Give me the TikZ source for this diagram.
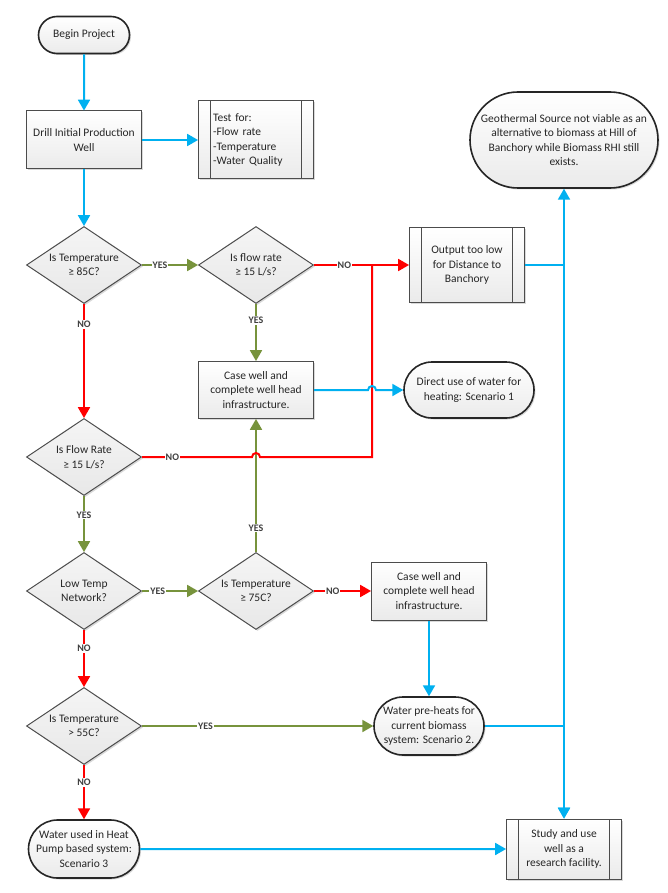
\documentclass[tikz,border=0pt]{standalone}
\usepackage{fontspec}
\setmainfont{Carlito}
\usepackage{tikz}
\usetikzlibrary{arrows}
\usetikzlibrary{shapes, shadows, positioning, calc}
\definecolor{flowblue}{HTML}{00B0F0}
\definecolor{yesgreen}{HTML}{77933C}
\definecolor{nored}{HTML}{FF0000}

\begin{document}
\begin{tikzpicture}[x=1pt,y=1pt,->,>=triangle 60,line width=2pt,
  font=\fontsize{11.5}{14.5}\selectfont, text=black!85,
  base/.style={draw=black!70, line width=1pt, top color=white, bottom color=black!8,
    align=center, inner sep=2pt, drop shadow={shadow xshift=1.5pt, shadow yshift=-1.5pt, opacity=.3}},
  proc node/.style={base, rectangle, minimum width=115pt, minimum height=58pt},
  sub node/.style={proc node, path picture={\draw[-, black!70, line width=1pt]
    ([xshift=12pt]path picture bounding box.north west) -- ([xshift=12pt]path picture bounding box.south west)
    ([xshift=-12pt]path picture bounding box.north east) -- ([xshift=-12pt]path picture bounding box.south east);}},
  dec node/.style={base, diamond, aspect=1.5, inner sep=0pt, minimum width=115pt,
    minimum height=77pt, top color=black!4, bottom color=black!9},
  term node/.style={base, rounded rectangle, draw=black!85, line width=1.6pt,
    minimum width=115pt, minimum height=58pt},
  lbl/.style={font=\fontsize{10}{10}\selectfont\bfseries, text=black!75, fill=white, inner sep=1pt},
  bl line/.style={color=flowblue, line width=2pt},
  gr line/.style={color=yesgreen, line width=2pt},
  rd line/.style={color=nored, line width=2pt}]
  \useasboundingbox (0,0) rectangle (668,-893);
  \node[term node, minimum width=95pt, minimum height=37pt] (1) at (84,-35) {Begin Project};
  \node[proc node, below of = 1, node distance=105pt] (2) {Drill Initial Production\\Well};
  \node[sub node, right of = 2, node distance=172pt, minimum height=78pt, text width=86pt, align=left] (3)
    {Test for:\\-Flow rate\\-Temperature\\-Water Quality};
  \node[dec node, below of = 2, node distance=125pt] (4) {Is Temperature\\≥ 85C?};
  \node[dec node, right of = 4, node distance=172pt] (5) {Is flow rate\\≥ 15 L/s?};
  \node[sub node, right of = 5, node distance=211pt, minimum height=74pt] (6) {Output too low\\for Distance to\\Banchory};
  \node[term node, right of = 3, node distance=308pt, minimum width=192pt, minimum height=96pt] (7)
    {Geothermal Source not viable as an\\alternative to biomass at Hill of\\Banchory while Biomass RHI still\\exists.};
  \node[proc node, below of = 5, node distance=125pt, minimum height=57pt] (8) {Case well and\\complete well head\\infrastructure.};
  \node[term node, right of = 8, node distance=213pt, minimum width=134pt, minimum height=56pt] (9) {Direct use of water for\\heating: Scenario 1};
  \node[dec node, below of = 4, node distance=192pt] (10) {Is Flow Rate\\≥ 15 L/s?};
  \node[dec node, below of = 10, node distance=134pt] (11) {Low Temp\\Network?};
  \node[dec node, right of = 11, node distance=172pt] (12) {Is Temperature\\≥ 75C?};
  \node[proc node, right of = 12, node distance=173pt] (13) {Case well and\\complete well head\\infrastructure.};
  \node[term node, below of = 13, node distance=135pt, minimum width=114pt] (14) {Water pre-heats for\\current biomass\\system: Scenario 2.};
  \node[dec node, below of = 11, node distance=135pt] (15) {Is Temperature\\> 55C?};
  \node[term node, below of = 15, node distance=123pt] (16) {Water used in Heat\\Pump based system:\\Scenario 3};
  \node[sub node, right of = 16, node distance=480pt, minimum height=60pt] (17) {Study and use\\well as a\\research facility.};
  \coordinate[right=58pt of 5.east] (j1);

  \path[bl line]
    (1) edge (2)
    (2) edge (3)
    (2) edge (4)
    (13) edge (14)
    (16) edge (17);
  \path[gr line]
    (4) edge node[lbl, pos=.32] {YES} (5)
    (5) edge node[lbl, pos=.29] {YES} (8)
    (10) edge node[lbl, pos=.34] {YES} (11)
    (11) edge node[lbl, pos=.28] {YES} (12)
    (12) edge node[lbl, pos=.18] {YES} (8)
    (15) edge node[lbl, pos=.275] {YES} (14);
  \path[rd line]
    (5) edge node[lbl, pos=.32] {NO} (6)
    (4) edge node[lbl, pos=.18] {NO} (10)
    (12) edge node[lbl, pos=.33] {NO} (13)
    (11) edge node[lbl, pos=.32] {NO} (15)
    (15) edge node[lbl, pos=.32] {NO} (16);
  % line hops over the crossings
  \draw[rd line, -] (10.east) -- node[lbl, pos=.276] {NO} ([xshift=-4pt]10.east -| 8.south)
    arc[start angle=180, end angle=0, radius=4pt] -- (10.east -| j1) -- (j1);
  \draw[bl line] (8.east) -- ([xshift=-4pt]8.east -| j1)
    arc[start angle=180, end angle=0, radius=4pt] -- (9.west);
  \draw[bl line] (6.east) -| (7.south);
  \draw[bl line] (6.east) -| (17.north);
  \draw[bl line] (14.east) -| (17.north);
\end{tikzpicture}
\end{document}
